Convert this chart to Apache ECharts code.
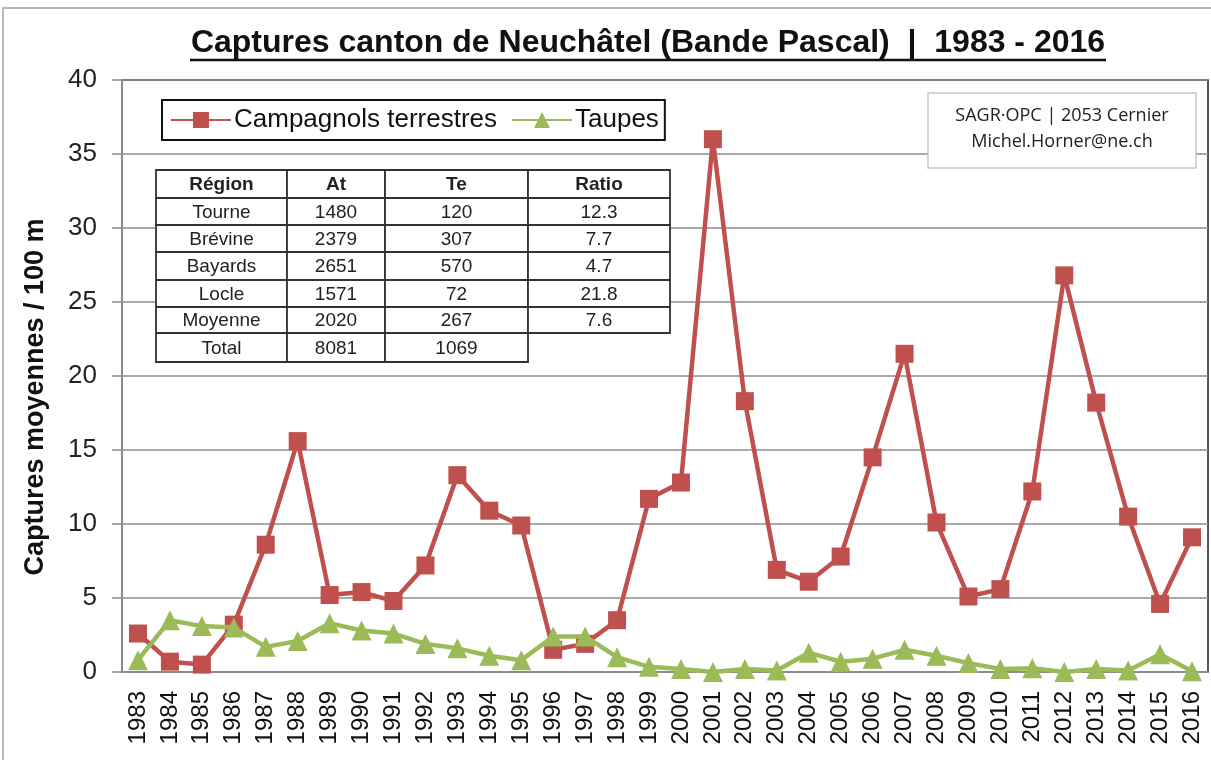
<!DOCTYPE html>
<html>
<head>
<meta charset="utf-8">
<script src="https://cdn.jsdelivr.net/npm/echarts@6/dist/echarts.min.js"></script>
<style>
  html, body { margin: 0; padding: 0; background: #fff; }
  #chart { width: 1211px; height: 760px; }
</style>
</head>
<body>
<div id="chart"></div>
<script>
// années
var years = ['1983','1984','1985','1986','1987','1988','1989','1990','1991','1992',
  '1993','1994','1995','1996','1997','1998','1999','2000','2001','2002',
  '2003','2004','2005','2006','2007','2008','2009','2010','2011','2012',
  '2013','2014','2015','2016'];

// captures moyennes / 100 m
var campagnols = [2.6, 0.7, 0.5, 3.2, 8.6, 15.6, 5.2, 5.4, 4.8, 7.2,
  13.3, 10.9, 9.9, 1.5, 1.9, 3.5, 11.7, 12.8, 36.0, 18.3,
  6.9, 6.1, 7.8, 14.5, 21.5, 10.1, 5.1, 5.6, 12.2, 26.8,
  18.2, 10.5, 4.6, 9.1];
var taupes = [0.8, 3.5, 3.1, 3.0, 1.7, 2.1, 3.3, 2.8, 2.6, 1.9,
  1.6, 1.1, 0.8, 2.4, 2.4, 1.0, 0.35, 0.2, 0.0, 0.2,
  0.1, 1.3, 0.7, 0.9, 1.5, 1.1, 0.6, 0.2, 0.25, 0.0,
  0.2, 0.1, 1.2, 0.05];

// tableau des régions
var tableHead = ['Région', 'At', 'Te', 'Ratio'];
var regions = ['Tourne', 'Brévine', 'Bayards', 'Locle', 'Moyenne', 'Total'];
var atVals = ['1480', '2379', '2651', '1571', '2020', '8081'];
var teVals = ['120', '307', '570', '72', '267', '1069'];
var ratios = ['12.3', '7.7', '4.7', '21.8', '7.6', ''];

var titre = 'Captures canton de Neuchâtel (Bande Pascal)  |  1983 - 2016';
var titreAxeY = 'Captures moyennes / 100 m';
var infoLines = ['SAGR·OPC | 2053 Cernier', 'Michel.Horner@ne.ch'];

var rouge = '#C0504D';
var vert = '#9BBB59';
var police = '"Liberation Sans", Arial, sans-serif';

// construit le tableau en éléments graphiques
function buildTable() {
  var cols = [156, 287, 385, 528, 670];
  var rows = [170, 198, 225, 252, 280, 307, 333, 362];
  var els = [];
  var lines = [tableHead].concat(regions.map(function (r, i) {
    return [r, atVals[i], teVals[i], ratios[i]];
  }));
  for (var r = 0; r < lines.length; r++) {
    var nc = (r == lines.length - 1) ? 3 : 4;
    for (var c = 0; c < nc; c++) {
      els.push({
        type: 'rect',
        shape: { x: cols[c], y: rows[r], width: cols[c + 1] - cols[c], height: rows[r + 1] - rows[r] },
        style: { fill: '#fff', stroke: '#333', lineWidth: 1.8 },
        z: 100
      });
      els.push({
        type: 'text',
        x: (cols[c] + cols[c + 1]) / 2,
        y: (rows[r] + rows[r + 1]) / 2 + 1,
        style: {
          text: lines[r][c],
          fill: '#222',
          font: (r == 0 ? 'bold ' : '') + '19px ' + police,
          textAlign: 'center',
          textVerticalAlign: 'middle'
        },
        z: 101
      });
    }
  }
  return els;
}

var myChart = echarts.init(document.getElementById('chart'));

var graphics = [
  { // cadre extérieur
    type: 'rect',
    shape: { x: 3, y: 8, width: 1230, height: 780 },
    style: { fill: 'none', stroke: '#b8b8b8', lineWidth: 2 },
    z: 1
  },
  {
    type: 'text',
    x: 648, y: 43,
    style: {
      text: titre,
      fill: '#111',
      font: 'bold 32px ' + police,
      textAlign: 'center',
      textVerticalAlign: 'middle'
    },
    z: 100
  },
  { // soulignement du titre
    type: 'line',
    shape: { x1: 190, y1: 60, x2: 1106, y2: 60 },
    style: { stroke: '#111', lineWidth: 2.5 },
    z: 100
  },
  { // titre de l'axe Y
    type: 'text',
    x: 36, y: 397,
    rotation: Math.PI / 2,
    style: {
      text: titreAxeY,
      fill: '#111',
      font: 'bold 27px ' + police,
      textAlign: 'center',
      textVerticalAlign: 'middle'
    },
    z: 100
  },
  {
    type: 'rect',
    shape: { x: 928, y: 93, width: 268, height: 75 },
    style: { fill: '#fff', stroke: '#c8c8c8', lineWidth: 1.5 },
    z: 100
  },
  {
    type: 'text',
    x: 1062, y: 116,
    style: { text: infoLines[0], fill: '#222', font: '18px "Open Sans", sans-serif', textAlign: 'center', textVerticalAlign: 'middle' },
    z: 101
  },
  {
    type: 'text',
    x: 1062, y: 142,
    style: { text: infoLines[1], fill: '#222', font: '18px "Open Sans", sans-serif', textAlign: 'center', textVerticalAlign: 'middle' },
    z: 101
  }
].concat(buildTable());

var option = {
  backgroundColor: '#fff',
  animation: false,
  grid: {
    left: 122, right: 3, top: 80, bottom: 88,
    show: true,
    borderColor: '#222',
    borderWidth: 1.5
  },
  legend: {
    left: 162, top: 100,
    padding: [7, 6, 7, 8],
    borderColor: '#111',
    borderWidth: 2,
    backgroundColor: '#fff',
    itemWidth: 60,
    itemHeight: 20,
    itemGap: 14,
    textStyle: { fontSize: 26, color: '#111', fontFamily: police, padding: [0, 0, 0, -2] },
    data: ['Campagnols terrestres', 'Taupes'],
    z: 50
  },
  xAxis: {
    type: 'category',
    data: years,
    boundaryGap: true,
    axisLine: { lineStyle: { color: '#8c8c8c', width: 2 } },
    axisTick: { show: false },
    axisLabel: {
      rotate: 90,
      margin: 19,
      fontSize: 24,
      color: '#111',
      fontFamily: police
    }
  },
  yAxis: {
    type: 'value',
    min: 0, max: 40, interval: 5,
    axisLine: { show: true, lineStyle: { color: '#8c8c8c', width: 2 } },
    axisTick: { show: true, length: 10, lineStyle: { color: '#8c8c8c', width: 1.5 } },
    axisLabel: { margin: 25, fontSize: 26, color: '#222', fontFamily: police },
    splitLine: { lineStyle: { color: '#8c8c8c', width: 1.5 } }
  },
  series: [
    {
      name: 'Campagnols terrestres',
      type: 'line',
      data: campagnols,
      symbol: 'rect',
      symbolSize: 18,
      lineStyle: { color: rouge, width: 4.5 },
      itemStyle: { color: rouge },
      z: 3
    },
    {
      name: 'Taupes',
      type: 'line',
      data: taupes,
      symbol: 'triangle',
      symbolSize: 20,
      lineStyle: { color: vert, width: 4.5 },
      itemStyle: { color: vert },
      z: 4
    }
  ],
  graphic: graphics
};

myChart.setOption(option);
</script>
</body>
</html>
